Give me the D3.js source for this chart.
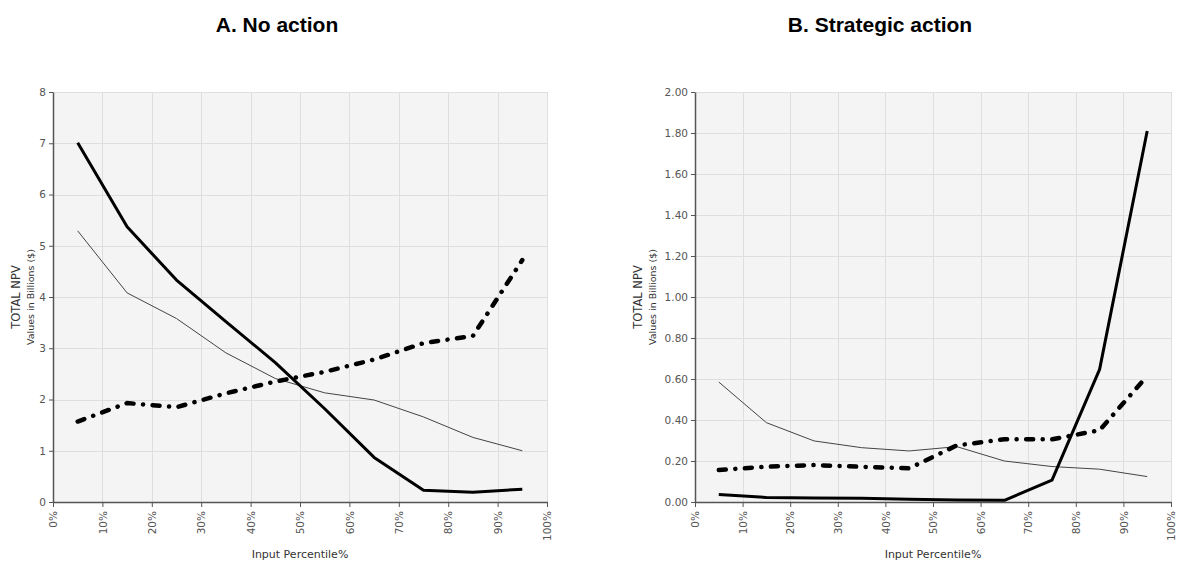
<!DOCTYPE html>
<html>
<head>
<meta charset="utf-8">
<script src="https://cdn.jsdelivr.net/npm/d3@7"></script>
<style>
  body { margin: 0; background: #fff; }
  text { font-family: "DejaVu Sans", Verdana, sans-serif; }
</style>
</head>
<body>
<script>
var width = 1179, height = 564

// input percentiles at which each series is sampled
var percentiles = [5, 15, 25, 35, 45, 55, 65, 75, 85, 95]
var xTicks = [0, 10, 20, 30, 40, 50, 60, 70, 80, 90, 100]

// A. No action (billions $)
var noActionThick = [7.01, 5.37, 4.33, 3.52, 2.72, 1.82, 0.87, 0.23, 0.19, 0.25]
var noActionThin = [5.29, 4.08, 3.58, 2.91, 2.41, 2.13, 1.99, 1.66, 1.26, 1.0]
var noActionDash = [1.57, 1.93, 1.85, 2.12, 2.35, 2.54, 2.78, 3.1, 3.24, 4.72]
var noActionYTicks = [0, 1, 2, 3, 4, 5, 6, 7, 8]

// B. Strategic action (billions $)
var strategicThick = [0.037, 0.022, 0.019, 0.018, 0.014, 0.01, 0.008, 0.107, 0.647, 1.81]
var strategicThin = [0.585, 0.387, 0.298, 0.265, 0.249, 0.27, 0.2, 0.173, 0.16, 0.124]
var strategicDash = [0.156, 0.172, 0.18, 0.172, 0.164, 0.276, 0.306, 0.306, 0.35, 0.615]
var strategicYTicks = [0, 0.2, 0.4, 0.6, 0.8, 1.0, 1.2, 1.4, 1.6, 1.8, 2.0]

var svg = d3.select("body").append("svg")
    .attr("width", width)
    .attr("height", height)

var panels = [
  { title: "A. No action", titleX: 277, left: 53, right: 547, top: 92, bottom: 502,
    yMax: 8, yTicks: noActionYTicks, fmt: d3.format("d"),
    thick: noActionThick, thin: noActionThin, dash: noActionDash, labelGap: 0 },
  { title: "B. Strategic action", titleX: 880, left: 695, right: 1171, top: 92, bottom: 502,
    yMax: 2, yTicks: strategicYTicks, fmt: d3.format(".2f"),
    thick: strategicThick, thin: strategicThin, dash: strategicDash, labelGap: 20 }
]

panels.forEach(function(p) {
  var x = d3.scaleLinear().domain([0, 100]).range([p.left, p.right])
  var y = d3.scaleLinear().domain([0, p.yMax]).range([p.bottom, p.top])
  var g = svg.append("g")

  // plot background
  g.append("rect")
    .attr("x", p.left).attr("y", p.top)
    .attr("width", p.right - p.left).attr("height", p.bottom - p.top)
    .attr("fill", "#f4f4f4")

  // grid
  g.selectAll(".hgrid").data(p.yTicks).enter().append("line")
    .attr("x1", p.left).attr("x2", p.right)
    .attr("y1", function(d) { return Math.round(y(d)) + 0.5 })
    .attr("y2", function(d) { return Math.round(y(d)) + 0.5 })
    .attr("stroke", "#dedede").attr("stroke-width", 1)
  g.selectAll(".vgrid").data(xTicks.slice(1)).enter().append("line")
    .attr("x1", function(d) { return Math.round(x(d)) + 0.5 })
    .attr("x2", function(d) { return Math.round(x(d)) + 0.5 })
    .attr("y1", p.top).attr("y2", p.bottom)
    .attr("stroke", "#dedede").attr("stroke-width", 1)

  // axes
  var xAxis = g.append("g")
    .attr("transform", "translate(0," + p.bottom + ")")
    .call(d3.axisBottom(x).tickValues(xTicks).tickFormat(function(d) { return d + "%" })
      .tickSizeInner(5).tickSizeOuter(0).tickPadding(4))
  xAxis.select(".domain").attr("stroke", "#555").attr("stroke-width", 1.5)
  xAxis.selectAll(".tick line").attr("stroke", "#555")
  xAxis.selectAll("text")
    .attr("transform", "rotate(-90)")
    .attr("x", -9).attr("y", 0).attr("dy", "0.35em")
    .style("text-anchor", "end")
    .attr("fill", "#555").style("font-size", "10.5px")

  var yAxis = g.append("g")
    .attr("transform", "translate(" + p.left + ",0)")
    .call(d3.axisLeft(y).tickValues(p.yTicks).tickFormat(p.fmt)
      .tickSizeInner(4).tickSizeOuter(0).tickPadding(3))
  yAxis.select(".domain").attr("stroke", "#555").attr("stroke-width", 1.5)
  yAxis.selectAll(".tick line").attr("stroke", "#555")
  yAxis.selectAll("text").attr("fill", "#555").style("font-size", "10.5px")

  // axis titles
  var cy = (p.top + p.bottom) / 2
  g.append("text")
    .text("TOTAL NPV")
    .attr("transform", "translate(" + (p.left - 33 - p.labelGap) + "," + cy + ") rotate(-90)")
    .attr("text-anchor", "middle").attr("fill", "#333").style("font-size", "11.5px")
  g.append("text")
    .text("Values in Billions ($)")
    .attr("transform", "translate(" + (p.left - 19 - p.labelGap) + "," + cy + ") rotate(-90)")
    .attr("text-anchor", "middle").attr("fill", "#333").style("font-size", "9.5px")
  g.append("text")
    .text("Input Percentile%")
    .attr("x", (p.left + p.right) / 2).attr("y", 558)
    .attr("text-anchor", "middle").attr("fill", "#333").style("font-size", "11px")

  // chart title
  svg.append("text")
    .text(p.title)
    .attr("x", p.titleX).attr("y", 32)
    .attr("text-anchor", "middle")
    .style("font-family", "'Liberation Sans', Arial, sans-serif")
    .style("font-weight", "bold").style("font-size", "21px")

  var line = d3.line()
    .x(function(d, i) { return x(percentiles[i]) })
    .y(function(d) { return y(d) })

  g.append("path").datum(p.thin)
    .attr("d", line).attr("fill", "none")
    .attr("stroke", "#444").attr("stroke-width", 1)
  g.append("path").datum(p.dash)
    .attr("d", line).attr("fill", "none")
    .attr("stroke", "#000").attr("stroke-width", 4.5)
    .attr("stroke-linecap", "round")
    .attr("stroke-dasharray", "7,9.5,0.1,9.5")
  g.append("path").datum(p.thick)
    .attr("d", line).attr("fill", "none")
    .attr("stroke", "#000").attr("stroke-width", 3)
    .attr("stroke-linejoin", "round")
})
</script>
</body>
</html>
